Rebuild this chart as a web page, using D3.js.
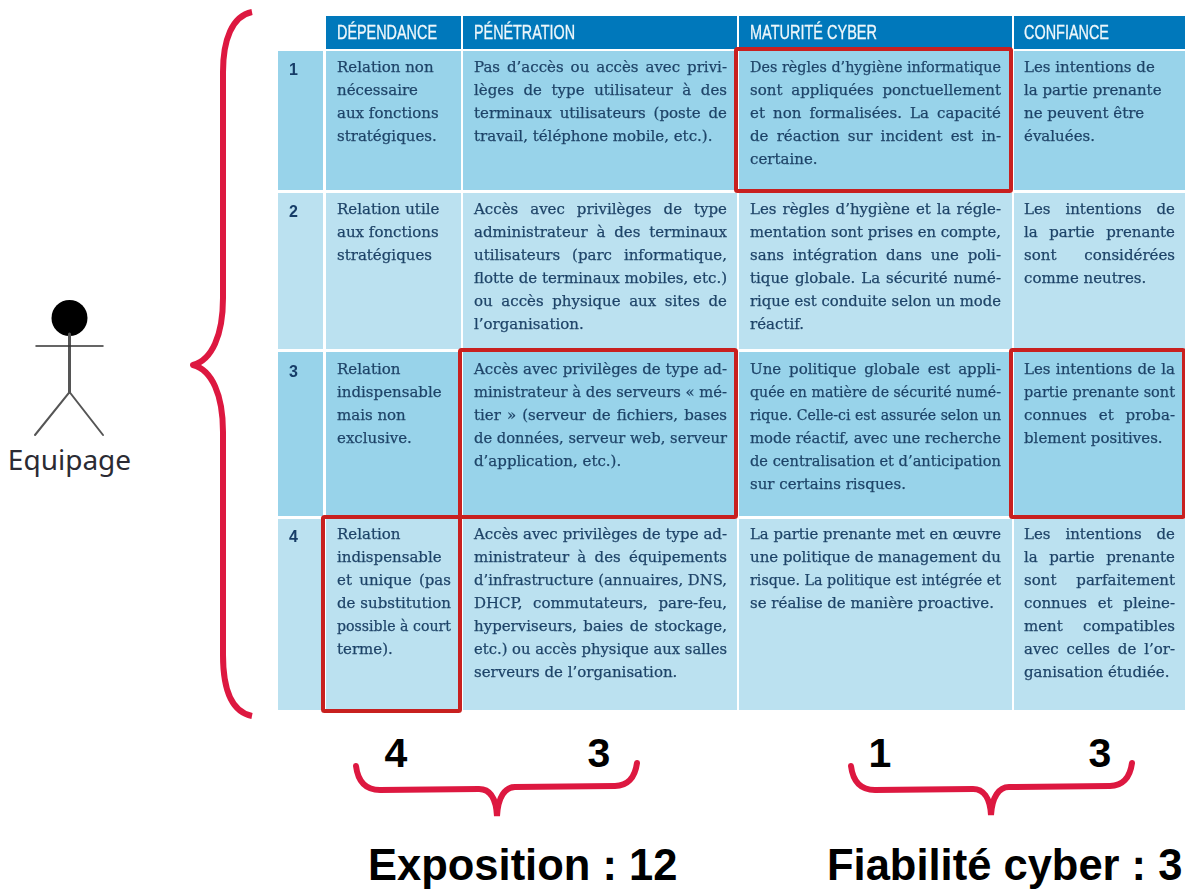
<!DOCTYPE html>
<html lang="fr">
<head>
<meta charset="utf-8">
<title>Equipage</title>
<script src="https://cdn.jsdelivr.net/npm/d3@7"></script>
<style>
  html, body { margin: 0; background: #fff; }
  svg { display: block; }
</style>
</head>
<body>
<div id="chart"></div>
<script>
const width = 1185;
const height = 889;

const columns = ["DÉPENDANCE", "PÉNÉTRATION", "MATURITÉ CYBER", "CONFIANCE"];
const levels = [1, 2, 3, 4];

const dependance = [
  ["Relation non", "nécessaire", "aux fonctions", "stratégiques."],
  ["Relation utile", "aux fonctions", "stratégiques"],
  ["Relation", "indispensable", "mais non", "exclusive."],
  ["Relation", "indispensable", "et unique (pas", "de substitution", "possible à court", "terme)."]
];
const penetration = [
  ["Pas d’accès ou accès avec privi-", "lèges de type utilisateur à des", "terminaux utilisateurs (poste de", "travail, téléphone mobile, etc.)."],
  ["Accès avec privilèges de type", "administrateur à des terminaux", "utilisateurs (parc informatique,", "flotte de terminaux mobiles, etc.)", "ou accès physique aux sites de", "l’organisation."],
  ["Accès avec privilèges de type ad-", "ministrateur à des serveurs « mé-", "tier » (serveur de fichiers, bases", "de données, serveur web, serveur", "d’application, etc.)."],
  ["Accès avec privilèges de type ad-", "ministrateur à des équipements", "d’infrastructure (annuaires, DNS,", "DHCP, commutateurs, pare-feu,", "hyperviseurs, baies de stockage,", "etc.) ou accès physique aux salles", "serveurs de l’organisation."]
];
const maturite = [
  ["Des règles d’hygiène informatique", "sont appliquées ponctuellement", "et non formalisées. La capacité", "de réaction sur incident est in-", "certaine."],
  ["Les règles d’hygiène et la régle-", "mentation sont prises en compte,", "sans intégration dans une poli-", "tique globale. La sécurité numé-", "rique est conduite selon un mode", "réactif."],
  ["Une politique globale est appli-", "quée en matière de sécurité numé-", "rique. Celle-ci est assurée selon un", "mode réactif, avec une recherche", "de centralisation et d’anticipation", "sur certains risques."],
  ["La partie prenante met en œuvre", "une politique de management du", "risque. La politique est intégrée et", "se réalise de manière proactive."]
];
const confiance = [
  ["Les intentions de", "la partie prenante", "ne peuvent être", "évaluées."],
  ["Les intentions de", "la partie prenante", "sont considérées", "comme neutres."],
  ["Les intentions de la", "partie prenante sont", "connues et proba-", "blement positives."],
  ["Les intentions de", "la partie prenante", "sont parfaitement", "connues et pleine-", "ment compatibles", "avec celles de l’or-", "ganisation étudiée."]
];
const cellLines = [dependance, penetration, maturite, confiance];

// which cells are set justified in the original (by column, then level)
const justified = [
  [false, false, false, true],
  [true, true, true, true],
  [true, true, true, true],
  [false, true, true, true]
];

const scores = [4, 3, 1, 3];
const groups = [
  { label: "Exposition : 12", from: 0, to: 1 },
  { label: "Fiabilité cyber : 3", from: 2, to: 3 }
];
const actorLabel = "Equipage";

// layout of the table
const colLeft = d3.scaleOrdinal().domain(d3.range(4)).range([326, 463, 739, 1014]);
const colRight = d3.scaleOrdinal().domain(d3.range(4)).range([461, 737, 1012, 1185]);
const textLeft = d3.scaleOrdinal().domain(d3.range(4)).range([337, 474, 750, 1024]);
const textRight = d3.scaleOrdinal().domain(d3.range(4)).range([451, 727, 1001, 1175]);
const headerWidth = d3.scaleOrdinal().domain(d3.range(4)).range([100, 101, 127, 85]);
const rowTop = d3.scaleOrdinal().domain(levels).range([51, 193, 352, 519]);
const rowBottom = d3.scaleOrdinal().domain(levels).range([190, 349, 516, 710]);
const rowBaseline = d3.scaleOrdinal().domain(levels).range([72, 214, 374, 539]);
const scoreX = d3.scaleOrdinal().domain(d3.range(4)).range([396, 599, 880, 1100]);

const lineHeight = 23;
const serif = "'DejaVu Serif', serif";
const red = "#c8201f";
const crimson = "#dd1840";
const ink = "#1f4468";

const svg = d3.select("#chart").append("svg")
  .attr("width", width)
  .attr("height", height)
  .attr("viewBox", `0 0 ${width} ${height}`);

svg.append("defs").append("filter")
  .attr("id", "soft")
  .append("feGaussianBlur")
  .attr("stdDeviation", 0.4);

const table = svg.append("g");
const tableText = svg.append("g").attr("filter", "url(#soft)");

// header band
columns.forEach((name, c) => {
  table.append("rect")
    .attr("x", colLeft(c)).attr("y", 16)
    .attr("width", colRight(c) - colLeft(c)).attr("height", 33)
    .attr("fill", "#0078bb");
  tableText.append("text")
    .attr("x", textLeft(c)).attr("y", 39)
    .attr("font-family", "'Liberation Sans', sans-serif")
    .attr("font-size", 20)
    .attr("textLength", headerWidth(c))
    .attr("lengthAdjust", "spacingAndGlyphs")
    .attr("fill", "#eef7fb")
    .attr("stroke", "#eef7fb")
    .attr("stroke-width", 0.3)
    .text(name);
});

// rows
levels.forEach((level, r) => {
  const fill = level % 2 ? "#98d3ea" : "#bbe1f0";
  table.append("rect")
    .attr("x", 278).attr("y", rowTop(level))
    .attr("width", 45).attr("height", rowBottom(level) - rowTop(level))
    .attr("fill", fill);
  tableText.append("text")
    .attr("x", 289).attr("y", rowBaseline(level) + 3)
    .attr("font-family", "'Liberation Sans', sans-serif")
    .attr("font-weight", "bold")
    .attr("font-size", 16)
    .attr("fill", "#173c68")
    .text(level);

  columns.forEach((_, c) => {
    table.append("rect")
      .attr("x", colLeft(c)).attr("y", rowTop(level))
      .attr("width", colRight(c) - colLeft(c)).attr("height", rowBottom(level) - rowTop(level))
      .attr("fill", fill);

    const lines = cellLines[c][r];
    lines.forEach((line, i) => {
      const t = tableText.append("text")
        .attr("x", textLeft(c))
        .attr("y", rowBaseline(level) + i * lineHeight)
        .attr("font-family", serif)
        .attr("font-size", 15)
        .attr("fill", ink)
        .attr("stroke", ink)
        .attr("stroke-width", 0.25)
        .text(line);

      // stretch or squeeze the word gaps so the line fills the measure
      const measure = textRight(c) - textLeft(c);
      const natural = t.node().getComputedTextLength();
      const gaps = line.split(" ").length - 1;
      if (justified[c][r] && i < lines.length - 1 && gaps > 0 && natural < measure) {
        t.attr("word-spacing", (measure - natural) / gaps);
      } else if (natural > measure) {
        t.attr("textLength", measure).attr("lengthAdjust", "spacingAndGlyphs");
      }
    });
  });
});

// red boxes around the level picked in each column
scores.forEach((level, c) => {
  svg.append("rect")
    .attr("x", colLeft(c) - 3)
    .attr("y", rowTop(level) - 2)
    .attr("width", colRight(c) - colLeft(c) + 2)
    .attr("height", rowBottom(level) - rowTop(level) + 3)
    .attr("rx", 1.5)
    .attr("fill", "none")
    .attr("stroke", red)
    .attr("stroke-width", 4);
});

// big brace on the left
const bigBrace = d3.path();
bigBrace.moveTo(252, 12);
bigBrace.bezierCurveTo(232, 16, 223, 40, 223, 72);
bigBrace.lineTo(223, 298);
bigBrace.bezierCurveTo(223, 335, 212, 360, 193, 365);
bigBrace.bezierCurveTo(212, 370, 223, 395, 223, 432);
bigBrace.lineTo(223, 655);
bigBrace.bezierCurveTo(223, 690, 232, 712, 252, 716);
svg.append("path")
  .attr("d", bigBrace.toString())
  .attr("fill", "none")
  .attr("stroke", crimson)
  .attr("stroke-width", 6)
  .attr("stroke-linejoin", "round");

// small braces under the scores
function underBrace(x0, x1, tipX, yStart, yEnd) {
  const p = d3.path();
  const ySpan = yStart - 2;
  p.moveTo(x0, ySpan + 2);
  p.bezierCurveTo(x0 + 2, ySpan + 18, x0 + 10, ySpan + 26, x0 + 24, ySpan + 26);
  p.lineTo(tipX - 18, ySpan + 25);
  p.bezierCurveTo(tipX - 8, ySpan + 25, tipX - 1, ySpan + 33, tipX, yEnd);
  p.bezierCurveTo(tipX + 1, ySpan + 33, tipX + 8, ySpan + 23, tipX + 18, ySpan + 23);
  p.lineTo(x1 - 22, ySpan + 22);
  p.bezierCurveTo(x1 - 10, ySpan + 22, x1 - 2, ySpan + 14, x1, ySpan - 1);
  return p.toString();
}
svg.append("path")
  .attr("d", underBrace(356, 637, 497, 766, 816))
  .attr("fill", "none").attr("stroke", crimson).attr("stroke-width", 6).attr("stroke-linecap", "round");
svg.append("path")
  .attr("d", underBrace(851, 1132, 991, 766, 815))
  .attr("fill", "none").attr("stroke", crimson).attr("stroke-width", 6).attr("stroke-linecap", "round");

// scores and totals
scores.forEach((score, c) => {
  svg.append("text")
    .attr("x", scoreX(c)).attr("y", 767)
    .attr("text-anchor", "middle")
    .attr("font-family", "'Liberation Sans', sans-serif")
    .attr("font-weight", "bold")
    .attr("font-size", 41)
    .attr("fill", "#000")
    .text(score);
});
groups.forEach((g, i) => {
  svg.append("text")
    .attr("x", i === 0 ? 368 : 827).attr("y", 880)
    .attr("font-family", "'Liberation Sans', sans-serif")
    .attr("font-weight", "bold")
    .attr("font-size", 43.5)
    .attr("fill", "#000")
    .text(g.label);
});

// stick figure
const actor = svg.append("g").attr("stroke-linecap", "round");
actor.append("ellipse")
  .attr("cx", 69.5).attr("cy", 318).attr("rx", 18).attr("ry", 18).attr("fill", "#000");
actor.append("line")
  .attr("x1", 69.5).attr("y1", 334).attr("x2", 69.5).attr("y2", 392)
  .attr("stroke", "#555").attr("stroke-width", 3);
actor.append("line")
  .attr("x1", 36).attr("y1", 346).attr("x2", 103).attr("y2", 346)
  .attr("stroke", "#333").attr("stroke-width", 1.5);
actor.append("path")
  .attr("d", "M35,435L69.5,392L103,435")
  .attr("fill", "none").attr("stroke", "#555").attr("stroke-width", 2);
svg.append("text")
  .attr("x", 69.5).attr("y", 470)
  .attr("text-anchor", "middle")
  .attr("font-family", "'Noto Sans', sans-serif")
  .attr("font-size", 28)
  .attr("fill", "#2b2b33")
  .text(actorLabel);
</script>
</body>
</html>
